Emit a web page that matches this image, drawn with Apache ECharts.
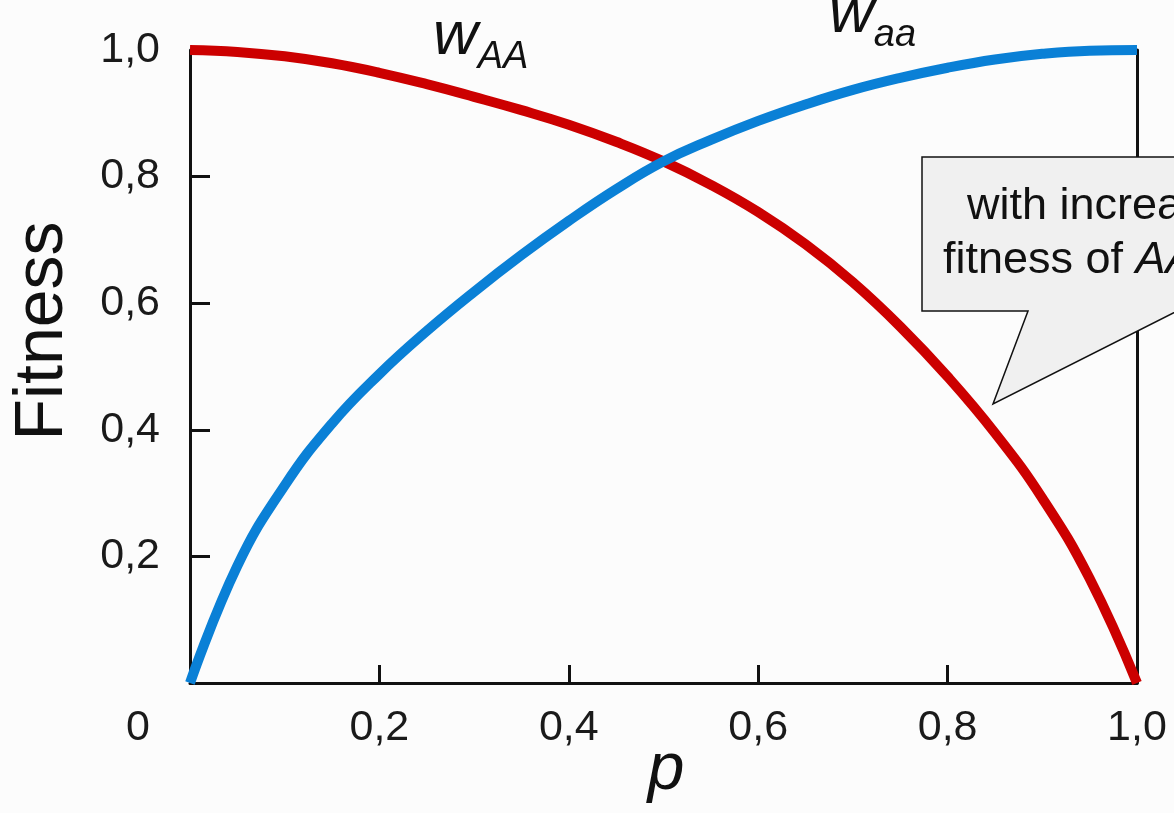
<!DOCTYPE html>
<html>
<head>
<meta charset="utf-8">
<script src="https://cdn.jsdelivr.net/npm/echarts@6/dist/echarts.min.js"></script>
<style>
html,body{margin:0;padding:0;background:#fcfcfc;}
#c{width:1174px;height:813px;}
</style>
</head>
<body>
<div id="c"></div>
<script>
// allele frequency p
const pValues = [0, 0.05, 0.1, 0.15, 0.2, 0.25, 0.3, 0.35, 0.4, 0.45, 0.5, 0.55, 0.6, 0.65, 0.7, 0.75, 0.8, 0.85, 0.9, 0.95, 1.0];
// fitness of AA (red)
const wAA = [1.0, 0.997, 0.99, 0.979, 0.964, 0.946, 0.926, 0.905, 0.882, 0.855, 0.824, 0.787, 0.744, 0.693, 0.633, 0.563, 0.484, 0.395, 0.292, 0.165, 0.0];
// fitness of aa (blue)
const waa = [0.0, 0.185, 0.312, 0.41, 0.488, 0.556, 0.618, 0.676, 0.73, 0.78, 0.824, 0.858, 0.888, 0.914, 0.937, 0.956, 0.972, 0.985, 0.994, 0.999, 1.0];
const tickLabels = ['0', '0,2', '0,4', '0,6', '0,8', '1,0'];

const font = 'Liberation Sans, Arial, Helvetica, sans-serif';
const chart = echarts.init(document.getElementById('c'), null, {renderer: 'canvas'});

function lbl(v) {
  if (Math.abs(v) < 1e-9) return '';
  return tickLabels[Math.round(v / 0.2)];
}

const option = {
  backgroundColor: '#fcfcfc',
  animation: false,
  grid: {left: 190, right: 37, top: 50, bottom: 130, containLabel: false, outerBoundsMode: 'none'},
  xAxis: {
    type: 'value', min: 0, max: 1, interval: 0.2,
    axisLine: {show: true, onZero: false, lineStyle: {color: '#111', width: 3}},
    axisTick: {show: true, inside: true, length: 18, lineStyle: {color: '#111', width: 3}},
    axisLabel: {formatter: lbl, fontFamily: font, fontSize: 43, color: '#1a1a1a', margin: 24},
    splitLine: {show: false}
  },
  yAxis: [{
    type: 'value', min: 0, max: 1, interval: 0.2,
    axisLine: {show: true, onZero: false, lineStyle: {color: '#111', width: 3}},
    axisTick: {show: true, inside: true, length: 20, lineStyle: {color: '#111', width: 3}},
    axisLabel: {formatter: lbl, fontFamily: font, fontSize: 43, color: '#1a1a1a', margin: 30},
    splitLine: {show: false}
  }, {
    type: 'value', min: 0, max: 1, interval: 0.2, position: 'right',
    axisLine: {show: true, onZero: false, lineStyle: {color: '#111', width: 3}},
    axisTick: {show: false}, axisLabel: {show: false}, splitLine: {show: false}
  }],
  series: [{
    name: 'w_AA', type: 'line', smooth: 0.45, showSymbol: false, clip: false, z: 3,
    lineStyle: {color: '#cc0000', width: 10},
    data: pValues.map((p, i) => [p, wAA[i]])
  }, {
    name: 'w_aa', type: 'line', smooth: 0.45, showSymbol: false, clip: false, z: 4,
    lineStyle: {color: '#0a80d6', width: 10},
    data: pValues.map((p, i) => [p, waa[i]])
  }],
  graphic: [
    {type: 'text', x: 43, y: 331, rotation: Math.PI / 2, style: {
      text: 'Fitness', font: '68px ' + font, fill: '#111', align: 'center', verticalAlign: 'middle'}},
    {type: 'text', x: 666, y: 771, style: {
      text: 'p', font: 'italic 66px ' + font, fill: '#111', align: 'center', verticalAlign: 'middle'}},
    {type: 'text', left: 126, top: 707, style: {text: '0', font: '43px ' + font, fill: '#1a1a1a'}},
    {type: 'text', left: 433, top: 6, style: {
      text: '{w|w}{s|AA}',
      rich: {
        w: {fontFamily: font, fontSize: 62, fontStyle: 'italic', fill: '#111', verticalAlign: 'bottom'},
        s: {fontFamily: font, fontSize: 38, fontStyle: 'italic', fill: '#111', verticalAlign: 'bottom', padding: [0, 0, -8, 0]}
      }
    }},
    {type: 'text', left: 829, top: -16, style: {
      text: '{w|w}{s|aa}',
      rich: {
        w: {fontFamily: font, fontSize: 62, fontStyle: 'italic', fill: '#111', verticalAlign: 'bottom'},
        s: {fontFamily: font, fontSize: 38, fontStyle: 'italic', fill: '#111', verticalAlign: 'bottom', padding: [0, 0, -8, 0]}
      }
    }},
    {type: 'polygon', z: 10, shape: {points: [[922,157],[1195,157],[1195,302],[993,404],[1028,311],[922,311]]},
      style: {fill: '#f0f0f0', stroke: '#111', lineWidth: 1.5}},
    {type: 'text', z: 11, left: 967, top: 184, style: {text: 'with increasing', font: '45px ' + font, fill: '#111'}},
    {type: 'text', z: 11, left: 943, top: 238, style: {
      text: '{n|fitness of }{i|AA}',
      rich: {
        n: {fontFamily: font, fontSize: 45, fill: '#111'},
        i: {fontFamily: font, fontSize: 45, fontStyle: 'italic', fill: '#111'}
      }
    }}
  ]
};
chart.setOption(option);
</script>
</body>
</html>
